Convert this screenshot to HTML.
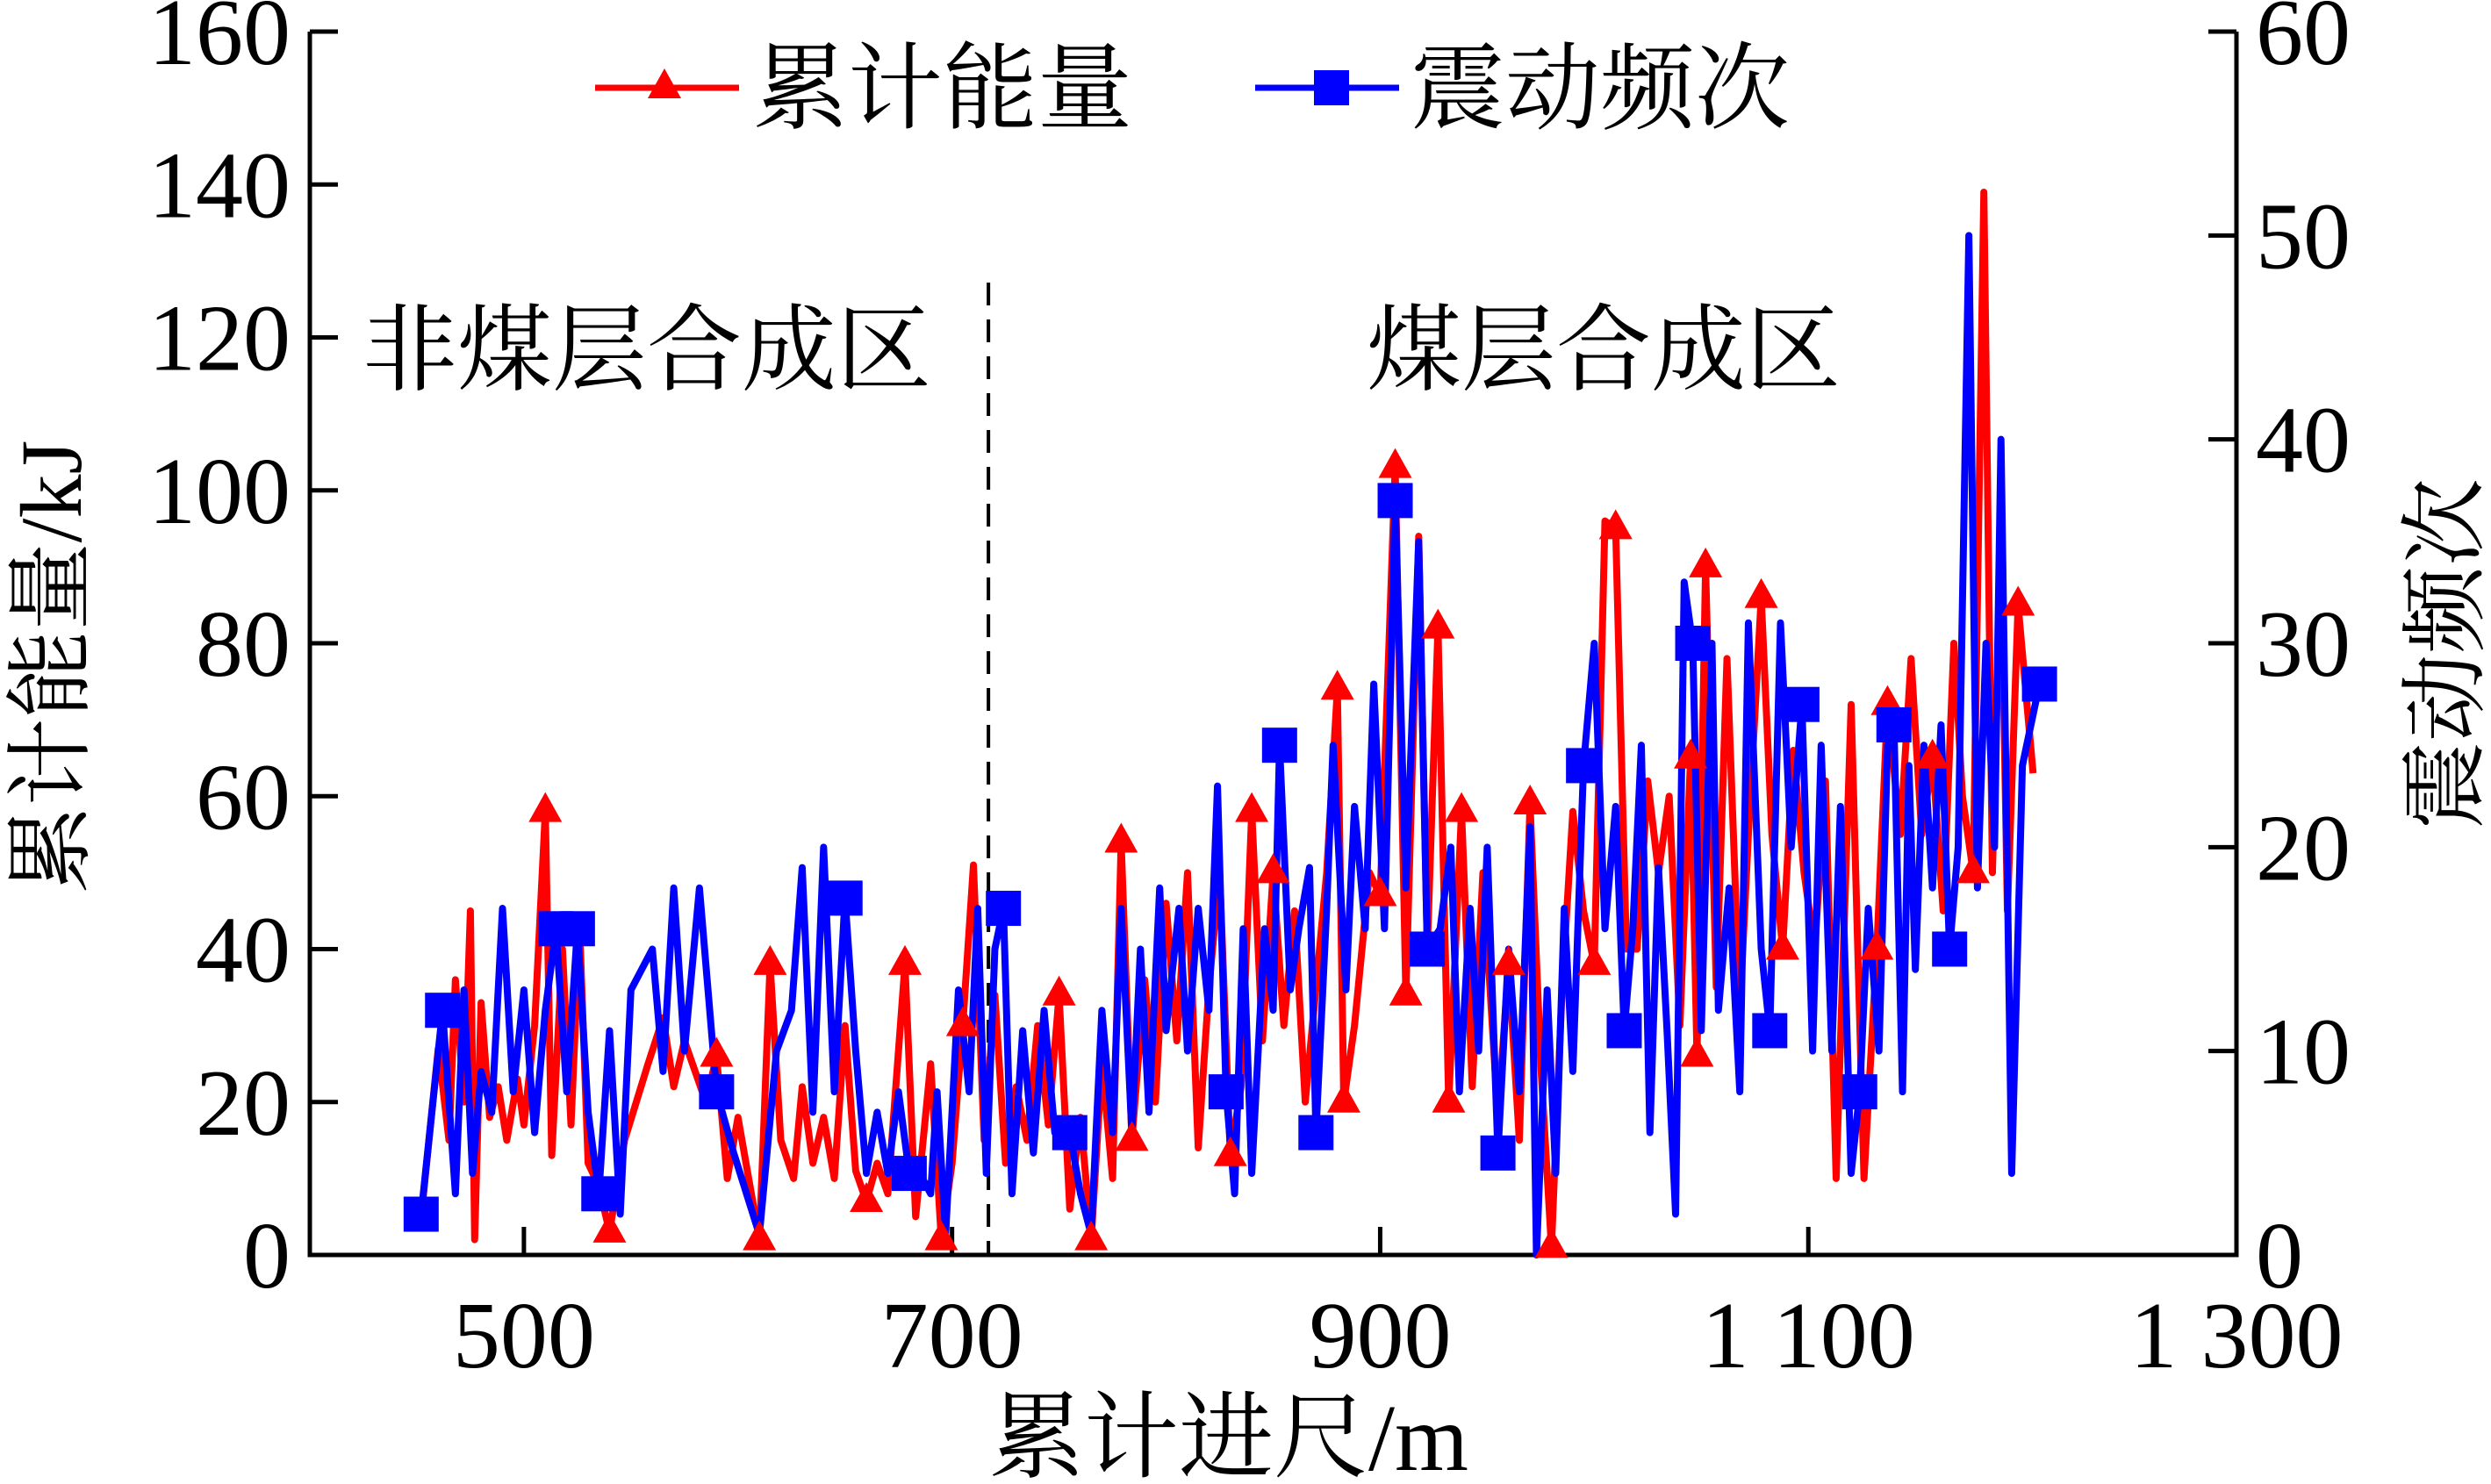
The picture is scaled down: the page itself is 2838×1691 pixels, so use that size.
<!DOCTYPE html>
<html><head><meta charset="utf-8"><style>
html,body{margin:0;padding:0;background:#fff}
svg{display:block}
text{font-family:"Liberation Serif","Noto Serif CJK SC","Noto Sans CJK SC",serif;fill:#000}
</style></head><body>
<svg id="chart" width="2838" height="1691" viewBox="0 0 2838 1691" xmlns="http://www.w3.org/2000/svg">
<g id="axes"></g>
<g id="series"></g>
<g>
<line x1="678" y1="100" x2="842" y2="100" stroke="#f00" stroke-width="7"/>
<polygon points="757,78 738,112 776,112" fill="#f00"/>
<text x="858" y="138" font-size="108">累计能量</text>
<line x1="1430" y1="100" x2="1594" y2="100" stroke="#00f" stroke-width="7"/>
<rect x="1497" y="80" width="40" height="40" fill="#00f"/>
<text x="1607" y="138" font-size="108">震动频次</text>
</g>
<text x="413" y="436" font-size="108">非煤层合成区</text>
<text x="1557" y="436" font-size="108">煤层合成区</text>
<text x="1400" y="1675" font-size="108" text-anchor="middle">累计进尺/m</text>
<text transform="translate(92,760) rotate(-90)" font-size="100" text-anchor="middle">累计能量/kJ</text>
<text transform="translate(2820,745) rotate(-90)" font-size="100" text-anchor="middle">震动频次</text>
</svg>
<script>
const xTicks=[500,700,900,1100,1300];
const xTickLabels=["500","700","900","1 100","1 300"];
const yLeftTicks=[0,20,40,60,80,100,120,140,160];
const yRightTicks=[0,10,20,30,40,50,60];
const zoneBoundary=717;
const energyX=[452,460,465,468,472,475,477,480,484,488,492,497,500,505,510,513,518,522,526,530,535,540,547,558,565,570,575,580,585,590,595,600,610,615,620,626,630,635,640,645,650,655,660,665,670,678,683,690,695,700,705,710,715,720,725,730,735,740,745,750,755,760,765,770,775,779,784,790,795,800,805,810,815,820,825,830,835,840,845,850,855,860,865,870,875,880,883,888,895,900,907,912,918,922,927,932,938,943,948,955,960,965,970,975,980,985,990,995,1000,1005,1010,1015,1020,1025,1030,1035,1040,1045,1048,1052,1057,1062,1068,1072,1078,1083,1088,1093,1098,1103,1108,1113,1120,1126,1132,1137,1143,1148,1153,1158,1163,1168,1172,1177,1182,1186,1190,1193,1198,1205];
const energyY=[5,27,15,36,20,45,2,33,18,22,15,23,17,30,58,13,40,17,43,12,9,3,15,25,31,22,28,24,20,26,10,18,2,38,15,10,22,12,18,10,30,11,7,12,8,38,5,25,2,12,30,51,15,34,12,22,15,30,17,34,6,18,2,25,10,54,15,36,20,46,28,50,14,35,50,13,22,58,28,50,30,45,20,35,50,74,20,30,50,47,103,34,94,40,82,20,58,22,50,18,38,15,59,25,1,35,58,45,38,96,95,40,40,62,50,60,30,65,26,90,35,78,32,55,86,55,40,66,50,40,62,10,72,10,40,72,55,78,55,65,45,80,60,50,139,50,93,45,85,63];
const energyMarkers=[14,21,29,32,33,42,45,48,50,59,62,65,66,75,77,79,85,86,89,90,91,94,95,96,100,102,104,108,110,117,118,119,124,126,134,135,139,143,148,150,151,153];
const freqX=[452,462,468,472,476,480,485,490,495,500,505,510,515,520,525,530,535,540,545,550,560,565,570,575,582,590,598,610,618,625,630,635,640,645,650,655,660,665,670,675,680,685,690,693,697,703,708,712,716,720,724,728,733,738,743,748,755,760,765,770,775,779,784,788,792,797,800,806,810,815,820,824,828,832,836,840,846,850,853,858,862,867,870,875,878,884,888,893,897,902,907,912,918,922,928,933,937,942,946,950,955,960,965,970,973,978,982,986,990,995,1000,1005,1010,1014,1018,1022,1026,1030,1034,1038,1042,1046,1050,1055,1058,1063,1068,1072,1078,1082,1087,1092,1097,1102,1106,1111,1115,1120,1124,1128,1133,1137,1140,1144,1147,1150,1154,1158,1162,1166,1170,1175,1179,1183,1187,1190,1195,1200,1208];
const freqY=[2,12,3,13,4,9,7,17,8,13,6,12,16,8,16,7,3,11,2,13,15,9,18,10,18,8,5,1,10,12,19,7,20,8,17.5,10,4,7,4,8,4,4,3,8,1,13,8,17,4,15,17,3,11,5,12,6,6,3,1,12,6,17,6,15,7,18,11,17,10,17,12,23,8,3,16,4,16,12,25,13,16,19,6,17,25,13,22,16,28,16,37,18,35,15,16,20,8,17,10,20,5,15,8,21,0,13,4,17,9,24,30,16,22,11,16,25,6,19,11,2,33,30,11,30,12,18,8,31,15,11,31,20,27,10,25,10,22,4,8,17,10,25,26,8,24,14,25,18,26,15,20,50,18,30,20,40,4,24,28];
const freqMarkerX=[452,462,515,525,535,590,650,680,724,755,828,853,870,907,922,955,995,1014,1046,1082,1097,1124,1140,1166,1208];
const L=353,R=2548,T=36,B=1430;
const sx=v=>L+(v-400)/900*(R-L);
const syL=v=>B-v/160*(B-T);
const syR=v=>B-v/60*(B-T);
const NS="http://www.w3.org/2000/svg";
function mk(tag,attrs,parent){const e=document.createElementNS(NS,tag);for(const k in attrs)e.setAttribute(k,attrs[k]);parent.appendChild(e);return e;}
const ax=document.getElementById('axes'),se=document.getElementById('series');
let e;
e=mk('path',{d:`M${L},${T} V${B} H${R} V${T}`,fill:'none',stroke:'#000','stroke-width':5},ax);


xTicks.forEach((v,i)=>{
 e=mk('line',{x1:sx(v),x2:sx(v),y1:B,y2:B-32,stroke:'#000','stroke-width':5},ax);
 
 
 e=mk('text',{x:sx(v),y:B+128,'font-size':108,'text-anchor':'middle'},ax);e.textContent=xTickLabels[i];
 
 
});
yLeftTicks.forEach(v=>{
 e=mk('line',{x1:L,x2:L+32,y1:syL(v),y2:syL(v),stroke:'#000','stroke-width':5},ax);
 
 
 e=mk('text',{x:L-22,y:syL(v)+37,'font-size':108,'text-anchor':'end'},ax);e.textContent=v;
 
 
});
yRightTicks.forEach(v=>{
 e=mk('line',{x1:R,x2:R-32,y1:syR(v),y2:syR(v),stroke:'#000','stroke-width':5},ax);
 
 
 e=mk('text',{x:R+22,y:syR(v)+37,'font-size':108,'text-anchor':'start'},ax);e.textContent=v;
 
 
});
e=mk('line',{x1:sx(zoneBoundary),x2:sx(zoneBoundary),y1:322,y2:B,stroke:'#000','stroke-width':4,'stroke-dasharray':'26,16'},ax);


const nE=Math.min(energyX.length,energyY.length), nF=Math.min(freqX.length,freqY.length);
e=mk('polyline',{points:energyX.slice(0,nE).map((x,i)=>sx(x)+','+syL(energyY[i])).join(' '),fill:'none',stroke:'#f00','stroke-width':8,'stroke-linejoin':'round'},se);


e=mk('polyline',{points:freqX.slice(0,nF).map((x,i)=>sx(x)+','+syR(freqY[i])).join(' '),fill:'none',stroke:'#00f','stroke-width':8,'stroke-linejoin':'round'},se);


energyMarkers.filter(i=>i<nE).forEach(i=>{const x=sx(energyX[i]),y=syL(energyY[i]);
 e=mk('polygon',{points:`${x},${y-22} ${x-19},${y+12} ${x+19},${y+12}`,fill:'#f00'},se);
 
 
});
freqMarkerX.forEach(mx=>{
 let bi=0;for(let i=0;i<nF;i++){if(Math.abs(freqX[i]-mx)<Math.abs(freqX[bi]-mx))bi=i;}
 const x=sx(freqX[bi]),y=syR(freqY[bi]);
 e=mk('rect',{x:x-20,y:y-20,width:40,height:40,fill:'#00f'},se);
 
 
});
</script>
</body></html>
